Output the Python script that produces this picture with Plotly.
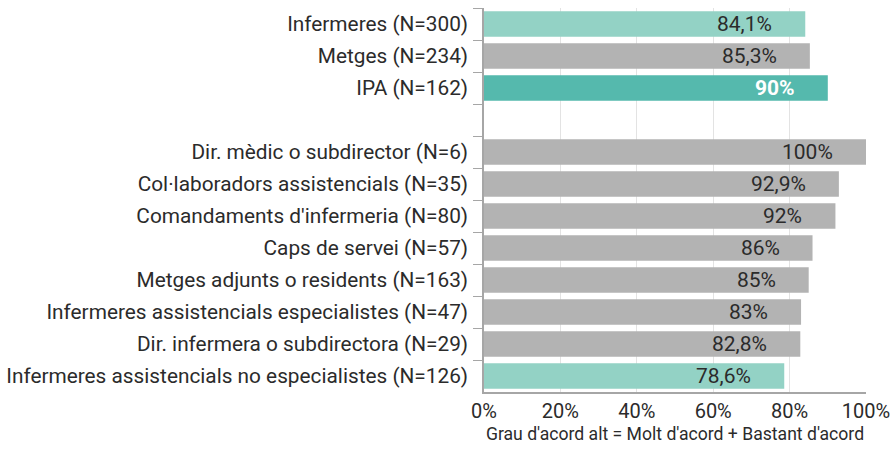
import plotly.graph_objects as go

categories = [
    "Infermeres (N=300)",
    "Metges (N=234)",
    "IPA (N=162)",
    " ",
    "Dir. mèdic o subdirector (N=6)",
    "Col·laboradors assistencials (N=35)",
    "Comandaments d'infermeria (N=80)",
    "Caps de servei (N=57)",
    "Metges adjunts o residents (N=163)",
    "Infermeres assistencials especialistes (N=47)",
    "Dir. infermera o subdirectora (N=29)",
    "Infermeres assistencials no especialistes (N=126)",
]
values = [84.1, 85.3, 90, None, 100, 92.9, 92, 86, 85, 83, 82.8, 78.6]
labels = ["84,1%", "85,3%", "90%", "", "100%", "92,9%", "92%", "86%", "85%", "83%", "82,8%", "78,6%"]

LIGHT = "#93d2c5"
GRAY = "#b3b3b3"
DARK = "#55b9ad"
colors = [LIGHT, GRAY, DARK, GRAY, GRAY, GRAY, GRAY, GRAY, GRAY, GRAY, GRAY, LIGHT]

fig = go.Figure(go.Bar(
    x=values, y=categories, orientation="h",
    marker=dict(color=colors, line=dict(width=0)),
    width=0.8,
    hoverinfo="skip",
))

# value labels, placed inside near the bar end
for cat, v, lab, c in zip(categories, values, labels, colors):
    if v is None:
        continue
    highlight = c == DARK
    fig.add_annotation(
        x=v, y=cat, xref="x", yref="y",
        text=f"<b>{lab}</b>" if highlight else lab,
        showarrow=False, xanchor="right", xshift=-31,
        font=dict(size=21, color="white" if highlight else "#2b2b2b",
                  family="Roboto"),
    )

fig.update_layout(
    width=895, height=452,
    margin=dict(l=484, r=29, t=8, b=60),
    plot_bgcolor="white", paper_bgcolor="white",
    font=dict(family="Roboto", size=21, color="#2b2b2b"),
    showlegend=False,
    bargap=0.2,
)
fig.update_xaxes(
    range=[0, 100], tickvals=[0, 20, 40, 60, 80, 100],
    ticktext=["0%", "20%", "40%", "60%", "80%", "100%"],
    showgrid=True, gridcolor="#e3e3e3", gridwidth=1,
    zeroline=False, showline=True, linecolor="#a6a6a6", linewidth=1.5,
    title=dict(text="Grau d'acord alt = Molt d'acord + Bastant d'acord",
               font=dict(size=17.6, color="#2b2b2b"), standoff=6),
    tickfont=dict(size=20), automargin=False,
)
fig.update_yaxes(
    categoryorder="array", categoryarray=categories, autorange="reversed",
    showline=True, linecolor="#a6a6a6", linewidth=1.5,
    ticks="outside", tickson="boundaries", ticklen=9, tickcolor="#a6a6a6",
    ticklabelstandoff=10, automargin=False,
    showgrid=False, tickfont=dict(size=20.8),
)

fig.write_html("out.html", config={"displayModeBar": False},
               post_script="document.body.style.margin='0';")
